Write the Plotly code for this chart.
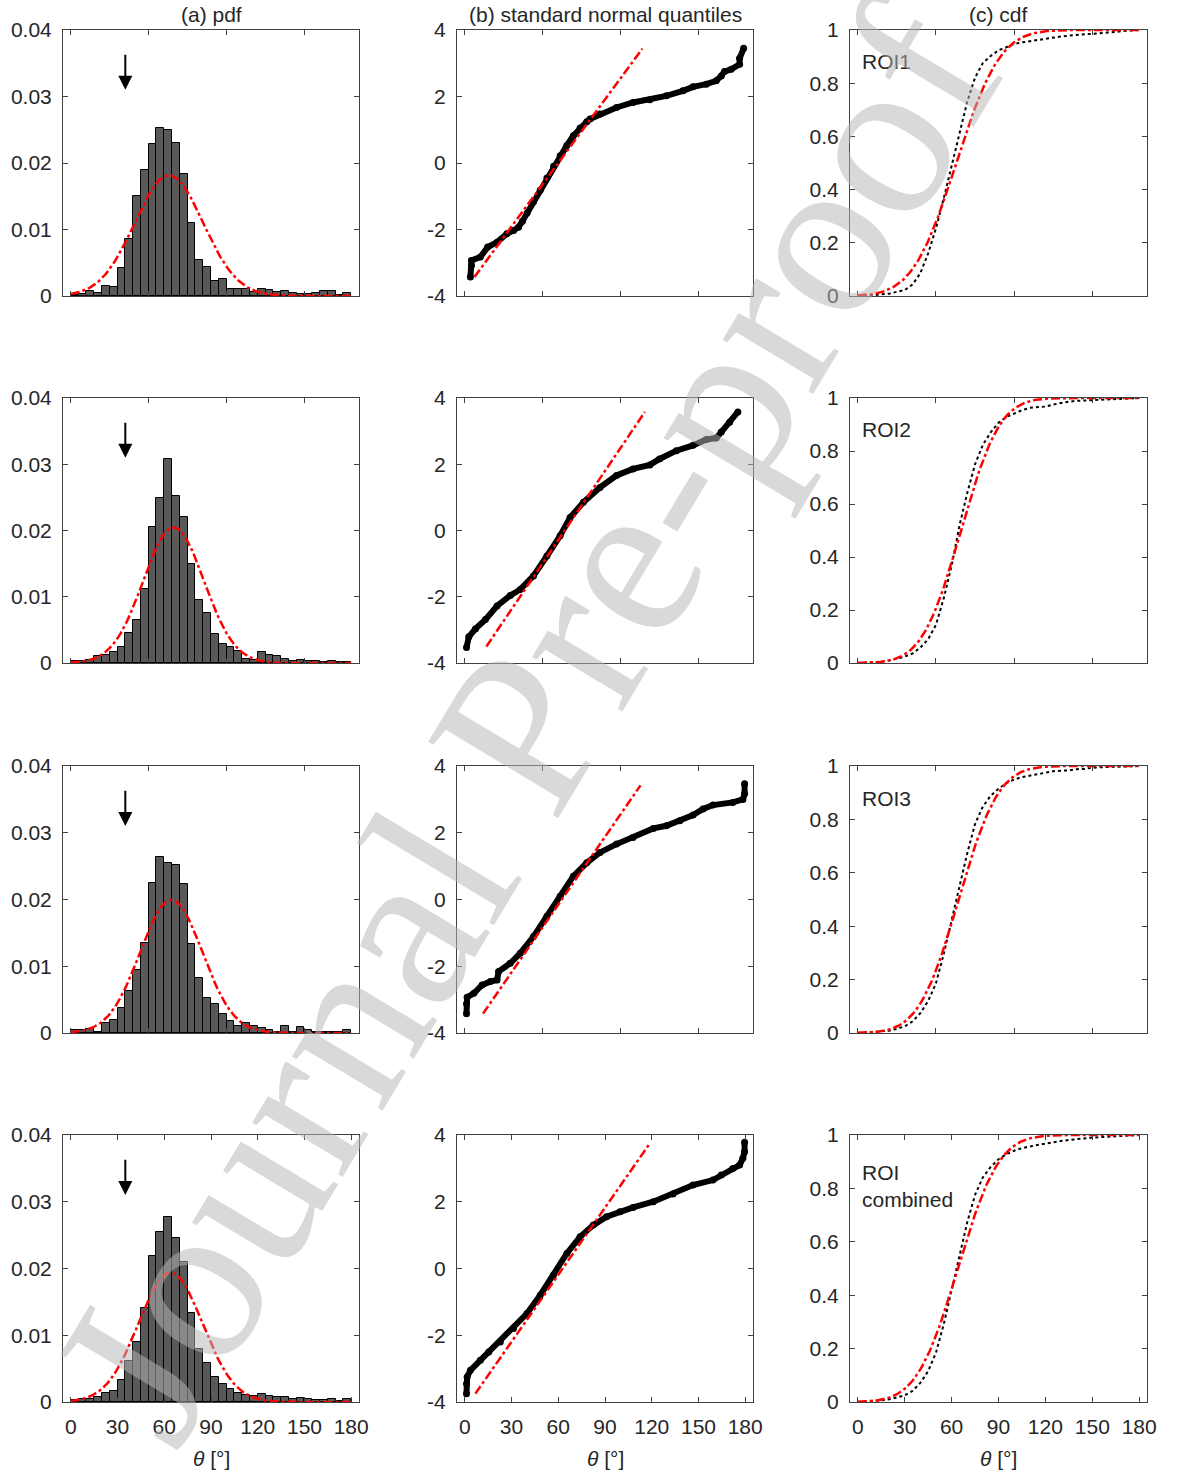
import math
import plotly.graph_objects as go

# ---------------- data ----------------
bin_left = list(range(0, 180, 5))          # histogram bins, width 5 deg
bin_width = 5

pdf_roi1 = [0.0002, 0.0003, 0.0008, 0.0004, 0.0015, 0.0013, 0.0042, 0.0086, 0.0151, 0.0190,
            0.0228, 0.0252, 0.0250, 0.0230, 0.0183, 0.0110, 0.0054, 0.0043, 0.0023, 0.0026,
            0.0011, 0.0010, 0.0010, 0.0006, 0.0010, 0.0009, 0.0006, 0.0007, 0.0004, 0.0003,
            0.0003, 0.0004, 0.0007, 0.0008, 0.0002, 0.0005]
pdf_roi2 = [0.0003, 0.0003, 0.0004, 0.0010, 0.0012, 0.0017, 0.0024, 0.0045, 0.0065, 0.0111,
            0.0205, 0.0249, 0.0308, 0.0252, 0.0221, 0.0150, 0.0095, 0.0075, 0.0044, 0.0028,
            0.0024, 0.0018, 0.0006, 0.0004, 0.0016, 0.0012, 0.0010, 0.0006, 0.0003, 0.0005,
            0.0003, 0.0003, 0.0002, 0.0003, 0.0002, 0.0001]
pdf_roi3 = [0.0005, 0.0004, 0.0006, 0.0002, 0.0015, 0.0019, 0.0037, 0.0063, 0.0094, 0.0135,
            0.0224, 0.0263, 0.0255, 0.0251, 0.0223, 0.0133, 0.0083, 0.0053, 0.0043, 0.0028,
            0.0018, 0.0011, 0.0015, 0.0011, 0.0008, 0.0004, 0.0002, 0.0010, 0.0002, 0.0009,
            0.0005, 0.0001, 0.0001, 0.0001, 0.0001, 0.0004]
pdf_all = [0.0003, 0.0004, 0.0005, 0.0008, 0.0014, 0.0017, 0.0033, 0.0062, 0.0090, 0.0141,
           0.0218, 0.0254, 0.0277, 0.0246, 0.0210, 0.0134, 0.0079, 0.0059, 0.0038, 0.0027,
           0.0020, 0.0014, 0.0010, 0.0009, 0.0012, 0.0009, 0.0008, 0.0008, 0.0004, 0.0006,
           0.0004, 0.0003, 0.0003, 0.0004, 0.0002, 0.0004]

# normal fits (mean, std) in degrees
fit_mu = [63.0, 66.0, 64.5, 64.0]
fit_sd = [22.0, 19.5, 20.0, 20.6]

# sorted theta vs standard normal quantile
qq_theta_roi1 = [3.6, 4.3, 4.3, 10, 14.7, 20.7, 27, 31.3, 34.5, 37, 40, 44, 48.4, 52.7, 57, 61.2,
                 65.5, 69.7, 74, 78.3, 80.4, 86.8, 97.4, 108, 118.8, 129.4, 140, 146.5, 155,
                 161.4, 164.6, 166.7, 171, 176.4, 176.4, 179]
qq_z_roi1 = [-3.43, -3.08, -2.93, -2.83, -2.53, -2.38, -2.13, -2.03, -1.93, -1.75, -1.5, -1.17,
             -0.82, -0.45, -0.1, 0.22, 0.53, 0.82, 1.05, 1.24, 1.32, 1.47, 1.67, 1.82, 1.9, 2.02,
             2.17, 2.29, 2.37, 2.47, 2.62, 2.75, 2.82, 2.97, 3.15, 3.45]
qq_theta_roi2 = [1.1, 2.6, 6.8, 13.2, 20.7, 29.2, 35.6, 44.1, 52.7, 61.2, 67.6, 76.1, 86.8, 97.4,
                 108, 118.8, 125, 135.8, 146.5, 155, 161.4, 164.6, 170, 175.3]
qq_z_roi2 = [-3.53, -3.21, -2.97, -2.69, -2.28, -1.96, -1.78, -1.37, -0.77, -0.16, 0.39, 0.85,
             1.3, 1.66, 1.86, 1.98, 2.16, 2.41, 2.57, 2.75, 2.79, 2.97, 3.27, 3.58]
qq_theta_roi3 = [1.1, 1.1, 1.5, 5.8, 11.1, 16.4, 20.7, 21.7, 29.2, 35.6, 44.1, 52.7, 61.2, 69.7,
                 78.3, 86.8, 97.4, 108, 121, 129.4, 138, 146.5, 152.9, 159.3, 172, 178.5, 179.6,
                 179.6]
qq_z_roi3 = [-3.42, -3.12, -2.93, -2.81, -2.56, -2.46, -2.41, -2.16, -1.91, -1.61, -1.11, -0.5,
             0.1, 0.7, 1.1, 1.41, 1.66, 1.86, 2.13, 2.21, 2.36, 2.53, 2.71, 2.83, 2.91, 3.0, 3.17,
             3.47]
qq_theta_all = [1.1, 1.1, 1.5, 3.6, 10, 15.4, 22.8, 31.3, 39.9, 48.4, 56.9, 65.5, 74, 82.5, 91,
                99.6, 108, 121, 133.7, 146.5, 159.3, 164.6, 172, 176.4, 178.5, 179.6, 179.6]
qq_z_all = [-3.75, -3.45, -3.25, -3.05, -2.75, -2.5, -2.2, -1.8, -1.35, -0.8, -0.2, 0.45, 0.95,
            1.3, 1.55, 1.7, 1.83, 2.0, 2.23, 2.5, 2.65, 2.8, 3.0, 3.1, 3.3, 3.5, 3.78]

# reference lines of the quantile plots (end points)
qqline_theta = [[6.2, 114.0], [13.9, 115.6], [11.7, 112.8], [6.8, 118.8]]
qqline_z = [[-3.43, 3.44], [-3.5, 3.58], [-3.42, 3.42], [-3.75, 3.75]]

roi_labels = ["ROI1", "ROI2", "ROI3", "ROI<br>combined"]
col_titles = ["(a) pdf", "(b) standard normal quantiles", "(c) cdf"]
arrow_theta = 35
arrow_pdf = [0.0365, 0.031]

pdf_tick_vals = [0, 0.01, 0.02, 0.03, 0.04]
pdf_tick_text = ["0", "0.01", "0.02", "0.03", "0.04"]
qq_tick_vals = [-4, -2, 0, 2, 4]
qq_tick_text = ["-4", "-2", "0", "2", "4"]
cdf_tick_vals = [0, 0.2, 0.4, 0.6, 0.8, 1]
cdf_tick_text = ["0", "0.2", "0.4", "0.6", "0.8", "1"]
theta_ticks_bottom = [0, 30, 60, 90, 120, 150, 180]
theta_ticks_other = [0, 50, 100, 150]

pdfs = [pdf_roi1, pdf_roi2, pdf_roi3, pdf_all]
qq_thetas = [qq_theta_roi1, qq_theta_roi2, qq_theta_roi3, qq_theta_all]
qq_zs = [qq_z_roi1, qq_z_roi2, qq_z_roi3, qq_z_all]

# ---------------- layout geometry ----------------
W, H = 1179, 1472
col_px = [(63, 359), (457, 753), (850, 1147)]
row_px = [(30, 296), (398, 663), (766, 1033), (1135, 1402)]
FONT = "Liberation Sans, Arial, sans-serif"
TXT = "#262626"
AX = "#404040"
GRAY = "#595959"

fig = go.Figure()
layout = dict(width=W, height=H, margin=dict(l=0, r=0, t=0, b=0, pad=0, autoexpand=False),
              paper_bgcolor="white", plot_bgcolor="white", showlegend=False,
              bargap=0, barmode="overlay")
annotations = []

theta_grid = list(range(0, 181))

def axis_base():
    return dict(showline=True, linecolor=AX, linewidth=1, mirror="ticks", ticks="inside",
                ticklen=5, tickcolor=AX, showgrid=False, zeroline=False, automargin=False,
                tickfont=dict(family=FONT, size=21, color=TXT))

for r in range(4):
    mu, sd = fit_mu[r], fit_sd[r]
    pdf = pdfs[r]
    centers = [b + bin_width / 2 for b in bin_left]
    total = sum(pdf) * bin_width
    cdf_x = [bin_left[0]] + [b + bin_width for b in bin_left]
    cum = [0.0]
    for v in pdf:
        cum.append(cum[-1] + v * bin_width / total)
    norm_pdf = [math.exp(-0.5 * ((t - mu) / sd) ** 2) / (sd * math.sqrt(2 * math.pi)) for t in theta_grid]
    norm_cdf = [0.5 * (1 + math.erf((t - mu) / (sd * math.sqrt(2)))) for t in theta_grid]

    for c in range(3):
        k = r * 3 + c + 1
        xa = f"x{k}" if k > 1 else "x"
        ya = f"y{k}" if k > 1 else "y"
        if c == 0:
            fig.add_trace(go.Bar(x=centers, y=pdf, width=bin_width, xaxis=xa, yaxis=ya,
                                 marker=dict(color=GRAY, line=dict(color="black", width=1))))
            fig.add_trace(go.Scatter(x=theta_grid, y=norm_pdf, mode="lines", xaxis=xa, yaxis=ya,
                                     line=dict(color="red", width=2.5, dash="dashdot")))
            annotations.append(dict(x=arrow_theta, y=arrow_pdf[1], ax=arrow_theta, ay=arrow_pdf[0],
                                    xref=xa, yref=ya, axref=xa, ayref=ya, text="",
                                    showarrow=True, arrowhead=2, arrowsize=1.4, arrowwidth=2,
                                    arrowcolor="black"))
        elif c == 1:
            fig.add_trace(go.Scatter(x=qq_thetas[r], y=qq_zs[r], mode="lines+markers",
                                     xaxis=xa, yaxis=ya,
                                     line=dict(color="black", width=6),
                                     marker=dict(color="black", size=7)))
            fig.add_trace(go.Scatter(x=qqline_theta[r], y=qqline_z[r], mode="lines",
                                     xaxis=xa, yaxis=ya,
                                     line=dict(color="red", width=2.5, dash="dashdot")))
        else:
            fig.add_trace(go.Scatter(x=cdf_x, y=cum, mode="lines", xaxis=xa, yaxis=ya,
                                     line=dict(color="black", width=2, dash="dot")))
            fig.add_trace(go.Scatter(x=theta_grid, y=norm_cdf, mode="lines", xaxis=xa, yaxis=ya,
                                     line=dict(color="red", width=2.5, dash="dashdot")))
            annotations.append(dict(x=0.034, y=0.88 if r < 3 else 0.81,
                                    xref=f"{xa} domain", yref=f"{ya} domain",
                                    text=roi_labels[r], showarrow=False, xanchor="left",
                                    yanchor="middle", align="left",
                                    font=dict(family=FONT, size=21, color=TXT)))

        x0, x1 = col_px[c]
        y0, y1 = row_px[r]
        xax = axis_base()
        xax.update(domain=[x0 / W, x1 / W], range=[-5, 185], anchor=ya)
        if r == 3:
            xax.update(tickvals=theta_ticks_bottom, ticktext=[str(v) for v in theta_ticks_bottom],
                       showticklabels=True, ticklabelstandoff=6)
        else:
            xax.update(tickvals=theta_ticks_other, showticklabels=False)
        yax = axis_base()
        yax.update(domain=[1 - y1 / H, 1 - y0 / H], anchor=xa, ticklabelstandoff=6)
        if c == 0:
            yax.update(range=[0, 0.04], tickvals=pdf_tick_vals, ticktext=pdf_tick_text)
        elif c == 1:
            yax.update(range=[-4, 4], tickvals=qq_tick_vals, ticktext=qq_tick_text)
        else:
            yax.update(range=[0, 1], tickvals=cdf_tick_vals, ticktext=cdf_tick_text)
        layout["xaxis" if k == 1 else f"xaxis{k}"] = xax
        layout["yaxis" if k == 1 else f"yaxis{k}"] = yax

# column titles and x labels
for c in range(3):
    xc = (col_px[c][0] + col_px[c][1]) / 2 / W
    annotations.append(dict(x=xc, y=1 - 14 / H, xref="paper", yref="paper", text=col_titles[c],
                            showarrow=False, xanchor="center", yanchor="middle",
                            font=dict(family=FONT, size=21, color=TXT)))
    annotations.append(dict(x=xc, y=1 - 1458 / H, xref="paper", yref="paper",
                            text="<i>θ</i> [°]", showarrow=False, xanchor="center",
                            yanchor="middle", font=dict(family=FONT, size=21, color=TXT)))

# watermark
annotations.append(dict(x=525 / W, y=1 - 722 / H, xref="paper", yref="paper",
                        text="Journal Pre-proof", showarrow=False, textangle=-59,
                        xanchor="center", yanchor="middle",
                        font=dict(family="Liberation Serif, Times New Roman, serif", size=230,
                                  color="rgba(183,183,183,0.52)")))

layout["annotations"] = annotations
fig.update_layout(**layout)
fig.write_html("out.html")
